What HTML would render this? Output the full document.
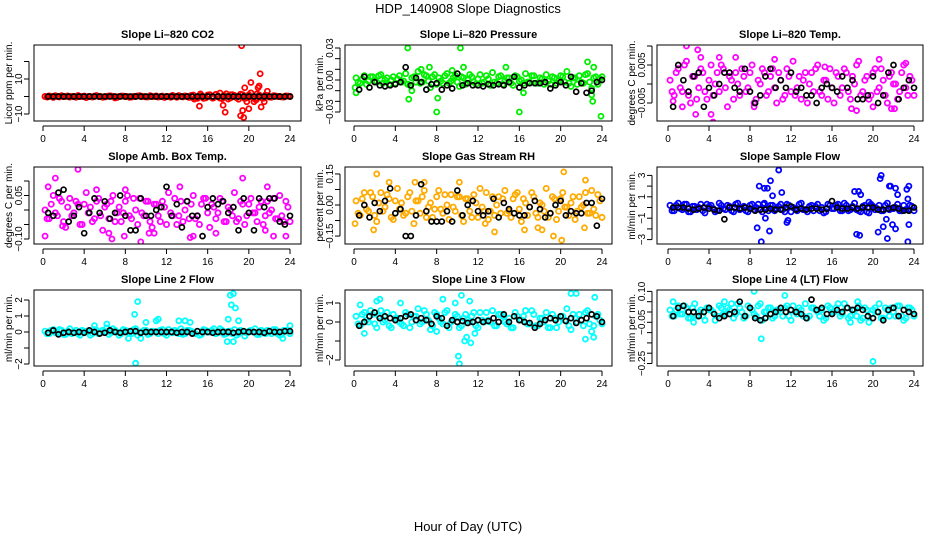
<!DOCTYPE html>
<html><head><meta charset="utf-8"><style>
html,body{margin:0;padding:0;background:#fff;}
svg{display:block;font-family:"Liberation Sans",sans-serif;}
</style></head><body>
<svg id="chart" width="936" height="540" viewBox="0 0 936 540">
<text x="468" y="13" text-anchor="middle" font-size="13">HDP_140908  Slope Diagnostics</text>
<text x="468" y="531" text-anchor="middle" font-size="13">Hour of Day (UTC)</text>
</svg>
<script>
// x-axis ticks
const xTicks=[0,4,8,12,16,20,24];
// Panel 1: Li-820 CO2 (ppm/min)
const co2Color=[0,0.3,-0.5,0,0.4,0,-0.3,0,0.5,0,-0.6,0,0.2,0,-0.4,0,0.3,-0.8,0,0.2,0,-0.3,0,0.4,0,-0.2,0,0.3,0,-0.5,0,0.6,-0.4,0,0.3,-0.5,0.8,-1,0.5,-0.8,1,-0.6,0.4,-1.2,1.5,-0.8,0.6,-1.5,1,-0.7,2,-1.2,0.8,-1,0.5,-0.4,0.3,0,-0.3,0.2];
const co2Color2=[-0.3,0,0.4,-0.2,0,0.3,0,-0.4,0,0.2,0,-0.3,0.5,0,-0.2,0.3,0,-0.5,0.2,0,-0.4,0,0.3,0,-0.2,0.4,0,-0.3,0.2,0,-0.4,0,0.5,-0.2,0,0.6,-0.7,0.4,-1,0.8,-0.5,1.2,-0.9,0.6,-1.4,1,-0.6,1.3,-1.1,0.9,-0.8,1.5,-0.6,0.7,-0.3,0.4,0,-0.2,0.3,0];
const co2OutX=[14.7,15.2,15.3,17.5,17.7,17.2,19.2,19.3,19.5,19.6,19.8,20.0,20.2,20.5,20.9,21.0,21.1,21.2,21.5,21.8,19.4,16.5,18.2,20.7];
const co2OutY=[-1.5,-5.5,1.5,-5,-9,2,-11,29,-12,5,-3,-7,8,-3,5,6,13,-6,-3,3,-8,-1,1,-2];
const co2Black=[0,0,0,0,0,0,0,0,0,0,0,0,0,0,0,0,0,0,0,0,0,0,0,0,0,0,0,0,0,0,0,0,0,0,0,0,0,0,0,0,0,0,0,0,0,0,0,0];
// Panel 2: Li-820 Pressure (x0.001 kPa/min)
const presColor=[2,-3,4,-1,3,-2,5,0,-4,3,1,-2,6,-5,3,8,-2,4,-7,5,2,-3,6,-1,4,-6,2,0,3,-4,5,-2,1,7,-3,4,-1,2,-5,3,0,6,-2,4,-3,1,5,-4,2,-1,3,8,-6,2,4,-3,6,-8,3,1];
const presColor2=[-2,1,-4,3,-1,4,-3,2,0,-3,4,-1,-4,2,-2,-3,5,-1,3,-4,-1,4,-3,2,-2,3,-4,5,-2,1,-3,4,-5,-2,3,-4,2,-3,4,-1,-3,-2,4,-3,2,-4,-1,3,-3,4,-2,-3,2,-4,-2,5,-2,2,-4,3];
const presOutX=[5.2,10.3,5.3,8,16,23.9,8.1,6.5,7.3,9.5,10.6,14.7,16.4,22.6,23.1,23.2,0.1,0.2,5.6,23.0];
const presOutY=[30,30,-18,-30,-30,-34,-17,10,12,9,12,12,-12,17,-20,12,-7,-12,-10,-14];
const presBlack=[-9,3,-7,-2,-5,-6,-5,-4,-2,12,-5,2,-2,-9,-4,-3,-9,-5,-8,6,-5,-3,-5,-5,-6,-4,-5,-4,-5,-2,3,-7,-5,-3,-3,-3,-2,-8,-5,-2,-5,3,-11,-3,-12,-10,-2,0];
// Panel 3: Li-820 Temp (x0.001 C/min)
const ltColor=[1,-3,4,-2,6,-5,2,-1,3,-4,5,0,-2,4,-6,1,3,-3,2,-1,5,-4,0,3,-2,4,-5,1,-3,2,6,-1,-4,3,0,-2,5,-3,1,4,-5,2,-1,3,-4,0,6,-2,2,-3,4,-1,1,-5,3,0,-2,5,-3,1];
const ltColor2=[-2,3,-1,5,-3,2,-4,4,-2,1,-3,3,5,-1,2,-4,0,4,-2,3,-5,1,4,-3,2,-1,3,-4,4,-2,-3,2,1,-5,3,4,-2,1,-4,-1,3,-3,4,-2,2,5,-3,1,-4,3,-2,4,-3,2,0,-4,3,-1,2,-3];
const ltOutX=[1.8,2.9,3.2,4.4,2.7,5.0,6.6,4.2,17.9,18.4,21.8,22.1,20.0,1.4,0.5,8.4,10.4,20.6,23.2,15.3];
const ltOutY=[10,9,7,-10,-8,7,7,-8,-6.5,-7,-6.5,-6.5,-6,-6,-4.5,-6,6.5,6.5,5.5,4.5];
const ltBlack=[-6,5,1,-2,2,3,-6,-1,-3,0,3,3,-1,-2,4,-2,-5,-3,2,4,-1,1,-1,3,-2,-1,-3,-3,-5,-1,0,-1,-2,2,-1,1,-4,-4,-3,2,-5,-3,3,5,-4,-1,1,-1];
// Panel 4: Amb. Box Temp (x0.01 C/min)
const abColor=[0,-3,5,-2,3,-6,4,-1,2,-5,6,1,-3,4,-7,2,3,-4,1,-1,5,-3,0,4,-2,3,-6,2,-4,1,6,-2,-5,3,0,-3,5,-2,2,4,-6,1,-1,3,-4,0,6,-3,2,-2,4,-1,1,-5,3,0,-3,5,-4,1];
const abColor2=[-3,2,-1,4,-4,1,-2,3,-5,2,-1,-4,3,-2,1,-3,5,-1,-4,3,-2,4,-5,-1,3,-4,2,-2,3,-5,-1,4,-2,-4,3,2,-3,-5,4,-1,2,-3,4,-4,1,-2,-4,3,-5,2,-1,-4,3,-2,-1,4,-3,-2,3,-4];
const abOutX=[0.2,0.5,1.2,3.4,1.9,5.2,6.7,6.4,7.9,9.5,10.3,10.8,14.3,14.6,19.4,21.6,22.4,23.6,21.8,8,16.8,13.3];
const abOutY=[-9,8,11,14,-5.5,7,-10,-8,-9,-11,-8,-8,-9.5,-9,11,-7,-9,-9,8,7,-8,8];
const abBlack=[-1,-2,6,7,-4,-2,1,-8,-1,4,-1,3,-3,-1,5,-2,-7,-7,4,-2,-2,0,1,8,-2,2,-6,3,-2,-2,-9,1,4,2,3,-1,1,-7,4,-1,-7,4,1,4,4,-4,-5,-2];
// Panel 5: Gas Stream RH (x0.01 %/min)
const rhColor=[2,-5,6,-3,4,-8,6,-1,3,-7,8,1,-4,6,-9,2,4,-6,1,-2,7,-4,0,5,-3,4,-8,3,-6,1,8,-3,-7,4,0,-4,7,-3,3,6,-8,1,-1,4,-6,0,8,-4,3,-3,6,-1,1,-7,4,0,-4,7,-5,2];
const rhColor2=[-4,3,-2,6,-5,1,-3,5,-6,2,-2,-5,4,-3,2,-4,7,-1,-6,4,-2,5,-7,-1,4,-5,3,-3,5,-6,-1,6,-3,-5,4,3,-4,-6,5,-2,3,-5,6,-4,1,-3,-6,4,-7,3,-1,-5,4,-3,-1,6,-4,-2,5,-6];
const rhOutX=[2.2,3.4,5.9,1.9,13.6,12.7,20.3,20.1,19.3,22.4,16.5,18.2,17.8,6.8,10.2,22.3,0.1];
const rhOutY=[15,11,11,-12,-13,-9,16,-17,-15,12,-12,-12,-11,11,11,-11,-9];
const rhBlack=[-5,0,-6,1,-3,2,8,-4,-2,-15,-15,-5,10,-3,-8,-8,-8,-3,-8,7,-5,0,2,-3,-5,-3,3,-6,1,-2,-4,-5,-5,-1,2,-2,-6,-4,0,2,-5,-3,-4,-4,1,1,-10,3];
// Panel 6: Sample Flow (ml/min per min)
const sfColor=[0.2,-0.3,0.4,-0.2,0.3,-0.4,0.1,0,-0.3,0.3,0.2,-0.4,0.4,-0.1,0.2,-0.3,0.3,-0.2,0.1,-0.4,0.3,0,-0.2,0.4,-0.3,0.2,-0.1,0.3,-0.4,0.2,0,-0.3,0.4,-0.2,0.1,-0.3,0.3,0,-0.4,0.2,-0.1,0.3,-0.3,0.2,-0.2,0.4,-0.3,0.1,-0.4,0.3,-0.2,0.2,-0.3,0.4,-0.1,0,-0.3,0.2,-0.2,0.1];
const sfColor2=[-0.3,0.2,-0.1,0.3,-0.4,0.1,-0.2,0.3,-0.5,0.1,-0.1,-0.3,0.2,-0.2,0.1,-0.4,0.4,-0.1,-0.3,0.2,-0.2,0.3,-0.4,-0.1,0.2,-0.3,0.1,-0.2,0.3,-0.4,-0.1,0.3,-0.2,-0.4,0.2,0.1,-0.3,-0.5,0.3,-0.1,0.2,-0.3,0.4,-0.3,0.1,-0.2,-0.4,0.2,-0.5,0.1,-0.1,-0.3,0.2,-0.2,-0.1,0.3,-0.3,-0.2,0.2,-0.3];
const sfOutX=[8.9,9.4,9.3,10.8,10.0,10.2,11.1,8.7,9.1,9.9,11.6,9.5,11.7,18.2,18.6,18.8,18.4,18.7,19.6,20.7,20.8,21.3,21.6,21.7,22.2,22.4,22.2,21.9,21.4,23.3,23.5,23.5,23.4,20.5,21.0,23.4,9.7,19.9];
const sfOutY=[2,1.8,0.3,3.5,2.5,1.1,1.4,-1.9,-3.2,-2.2,-1.4,-1,-1.2,1.5,1.5,1.2,-2.5,-2.6,0.5,2.7,3,-1.1,2,2,1.8,1.2,-2,-1.6,-2.9,1.7,2,-1.6,-3.2,-2.3,-1.8,0.8,1.8,0.2];
const sfBlack=[0,0,0,-0.1,-0.2,-0.1,0,-0.1,-0.2,-0.3,-1.1,0,0,-0.1,0,-0.1,-0.3,-0.2,-0.2,-0.1,-0.2,-0.2,0,0.1,-0.2,-0.1,-0.2,-0.1,-0.1,-0.2,-0.1,0.6,0,-0.1,-0.1,0,-0.1,0,0,0,-0.2,-0.2,-0.1,0,-0.1,-0.3,-0.3,0];
// Panel 7: Line 2 Flow
const l2Color=[0.05,-0.1,0.15,-0.05,0.1,-0.15,0.2,0,-0.1,0.1,0.05,-0.2,0.15,-0.1,0.1,0.25,-0.05,0.1,-0.2,0.15,0.05,-0.1,0.2,-0.05,0.1,-0.15,0.05,0,0.1,-0.1,0.15,-0.05,0.05,0.2,-0.1,0.1,-0.05,0.05,-0.15,0.1,0,0.2,-0.05,0.1,-0.1,0.05,0.15,-0.1,0.05,-0.05,0.1,0.2,-0.15,0.05,0.1,-0.1,0.15,-0.2,0.1,0.05];
const l2Color2=[-0.1,0.1,-0.05,0.15,-0.15,0.05,-0.1,0.1,-0.2,0.05,0,-0.1,0.1,-0.05,0.05,-0.15,0.2,0,-0.1,0.1,-0.05,0.15,-0.2,0,0.1,-0.1,0.05,-0.1,0.15,-0.2,0,0.1,-0.1,-0.15,0.1,0.05,-0.1,-0.2,0.15,0,0.1,-0.1,0.2,-0.15,0.05,-0.1,-0.2,0.1,-0.25,0.05,0,-0.15,0.1,-0.1,0,0.15,-0.1,-0.15,0.1,-0.1];
const l2OutX=[8.9,9.2,9.0,18.2,18.5,18.7,18.3,18.0,19.0,17.9,18.5,10,11,11.2,13.2,13.8,14.3,9.5,6.2,23.3,24,8.3,5];
const l2OutY=[1.1,1.9,-1.95,2.3,2.4,1.5,1.7,0.8,0.7,-0.6,-0.6,0.6,0.7,0.8,0.7,0.7,0.6,-0.4,0.5,-0.4,0.4,-0.4,0.4];
const l2Black=[-0.05,0.1,-0.15,-0.05,0,-0.05,0,-0.05,0.1,0,-0.1,-0.05,0.1,0,-0.05,0,0.05,0.05,-0.05,0,0,0,0,0,0,-0.05,0,0,-0.1,0.05,0,0,-0.05,0,0,0,-0.05,0,0.05,0,0,0,-0.05,0.05,0,0,0.05,0.05];
// Panel 8: Line 3 Flow
const l3Color=[0.3,-0.2,0.5,0,0.4,-0.3,0.6,0.1,-0.2,0.4,0.2,-0.1,0.5,-0.3,0.3,0.7,0,0.4,-0.4,0.5,0.2,-0.1,0.6,0,0.4,-0.3,0.2,0.1,0.3,-0.2,0.5,0,0.1,0.6,-0.2,0.4,0,0.2,-0.3,0.3,0.1,0.6,-0.1,0.4,-0.2,0.2,0.5,-0.3,0.2,0,0.3,0.7,-0.4,0.2,0.4,-0.2,0.6,-0.5,0.3,0.1];
const l3Color2=[-0.1,0.4,0.1,0.6,-0.1,0.3,0,0.5,-0.3,0.2,0,-0.2,0.4,0,0.3,-0.1,0.6,0.1,-0.2,0.4,0,0.5,-0.3,0.1,0.3,-0.2,0.4,0,0.5,-0.3,0.1,0.5,0,-0.2,0.4,0.3,-0.1,-0.3,0.5,0.1,0.3,-0.1,0.6,-0.2,0.2,0,-0.3,0.4,-0.3,0.3,0.1,-0.2,0.4,0,0.1,0.5,-0.1,-0.2,0.4,-0.1];
const l3OutX=[0.6,2.5,2.2,4.5,8.6,10.4,11.2,9.8,10.1,10.2,10.7,10.9,11.3,21.5,21,23.3,22.4,23.2,8,1,11.7];
const l3OutY=[0.9,1.2,1.1,1,1.2,1.4,1.1,1,-1.8,-2.2,-1.0,-0.8,-1.1,1.5,1.5,1.3,-0.9,-0.8,-0.5,-0.6,-0.6];
const l3Black=[-0.2,0,0.3,0.5,0.2,0.3,0.2,0.1,0.2,0.3,0.4,0.1,0.2,0.1,-0.1,0.3,0.2,-0.2,0.1,0,0.05,-0.05,0,0.1,0,0.05,0.2,0,0.4,0,0.3,0.1,0,-0.05,-0.3,-0.1,0.1,0.2,0.1,0.3,0.05,0.2,-0.05,0.1,0.2,0.4,0.3,0];
// Panel 9: Line 4 (LT) Flow (x0.01)
const l4Color=[1,-2,3,-1,2,-3,4,0,-2,2,1,-4,3,-1,2,4,-1,2,-3,3,1,-2,4,0,2,-3,1,0,2,-2,3,-1,1,4,-2,2,0,1,-3,2,0,4,-1,2,-2,1,3,-3,1,-1,2,4,-3,1,2,-2,3,-4,2,1];
const l4Color2=[-2,1,-1,3,-3,2,-2,1,-4,1,0,-2,2,-1,1,-3,4,0,-2,2,-1,3,-4,0,2,-2,1,-2,3,-4,0,2,-2,-3,2,1,-2,-4,3,0,2,-2,4,-3,1,-2,-4,2,-5,1,0,-3,2,-2,0,3,-2,-3,2,-2];
const l4OutX=[8.4,11.4,9.1,20,12,5.5,18.5,17.8,0.5,2.5];
const l4OutY=[10,8,-13,-24,-31,5,5,-5,5,-5];
const l4Black=[-2,2,3,0,0,-2,0,2,-1,-3,-2,-1,0,5,-2,2,-3,-4,-3,-1,0,2,0,1,0,-1,-3,6,1,2,-1,-1,1,0,2,1,2,1,-2,-3,0,-4,1,2,-2,1,0,-1];

const NS='http://www.w3.org/2000/svg';
const svg=document.getElementById('chart');
const cols=[{l:34,r:301,x0:43,x24:290},{l:345,r:612,x0:354,x24:602},{l:657,r:923,x0:668,x24:914}];
const rows=[{t:45,b:121},{t:167,b:244},{t:290,b:366}];
const panels=[
 {key:'co2',title:'Slope Li\u2013820 CO2',ylab:'Licor ppm per min.',color:'#ff0000',zero:96.5,ppu:1.75,ticks:[20,10,0,-10],labels:{'10':'10','-10':'\u221210'},c:co2Color,c2:co2Color2,ox:co2OutX,oy:co2OutY,k:co2Black},
 {key:'pressure',title:'Slope Li\u2013820 Pressure',ylab:'kPa per min.',color:'#00ee00',zero:80,ppu:1.067,ticks:[30,20,10,0,-10,-20,-30],labels:{'30':'0.03','0':'0.00','-30':'\u22120.03'},c:presColor,c2:presColor2,ox:presOutX,oy:presOutY,k:presBlack},
 {key:'li820-temp',title:'Slope Li\u2013820 Temp.',ylab:'degrees C per min.',color:'#ff00ff',zero:84,ppu:3.8,ticks:[10,5,0,-5],labels:{'5':'0.005','-5':'\u22120.005'},c:ltColor,c2:ltColor2,ox:ltOutX,oy:ltOutY,k:ltBlack},
 {key:'amb-box-temp',title:'Slope Amb. Box Temp.',ylab:'degrees C per min.',color:'#ff00ff',zero:210,ppu:2.9,ticks:[10,5,0,-5,-10],labels:{'5':'0.05','-10':'\u22120.10'},c:abColor,c2:abColor2,ox:abOutX,oy:abOutY,k:abBlack},
 {key:'gas-rh',title:'Slope Gas Stream RH',ylab:'percent per min.',color:'#ffaa00',zero:205,ppu:2.07,ticks:[15,7.5,0,-7.5,-15],labels:{'15':'0.15','0':'0.00','-15':'\u22120.15'},c:rhColor,c2:rhColor2,ox:rhOutX,oy:rhOutY,k:rhBlack},
 {key:'sample-flow',title:'Slope Sample Flow',ylab:'ml/min per min.',color:'#0000ff',zero:207.5,ppu:10.7,ticks:[3,2,1,0,-1,-2,-3],labels:{'3':'3','1':'1','-1':'\u22121','-3':'\u22123'},c:sfColor,c2:sfColor2,ox:sfOutX,oy:sfOutY,k:sfBlack},
 {key:'line2-flow',title:'Slope Line 2 Flow',ylab:'ml/min per min.',color:'#00ffff',zero:332,ppu:16,ticks:[2,1,0,-1,-2],labels:{'2':'2','1':'1','0':'0','-2':'\u22122'},c:l2Color,c2:l2Color2,ox:l2OutX,oy:l2OutY,k:l2Black},
 {key:'line3-flow',title:'Slope Line 3 Flow',ylab:'ml/min per min.',color:'#00ffff',zero:322,ppu:19,ticks:[1,0,-1,-2],labels:{'1':'1','0':'0','-2':'\u22122'},c:l3Color,c2:l3Color2,ox:l3OutX,oy:l3OutY,k:l3Black},
 {key:'line4-flow',title:'Slope Line 4 (LT) Flow',ylab:'ml/min per min.',color:'#00ffff',zero:312,ppu:2.06,ticks:[10,5,0,-5,-10,-15,-20,-25],labels:{'10':'0.10','-5':'\u22120.05','-25':'\u22120.25'},c:l4Color,c2:l4Color2,ox:l4OutX,oy:l4OutY,k:l4Black}
];
function mk(tag,attrs,parent){const e=document.createElementNS(NS,tag);for(const a in attrs)e.setAttribute(a,attrs[a]);(parent||svg).appendChild(e);return e;}
panels.forEach((p,i)=>{
 const c=cols[i%3], r=rows[Math.floor(i/3)];
 const g=mk('g',{});
 
 
 const xs=h=>c.x0+h*(c.x24-c.x0)/24;
 const ys=v=>p.zero-v*p.ppu;
 const clipId='clip'+i;
 const cp=mk('clipPath',{id:clipId},g);
 mk('rect',{x:c.l,y:r.t,width:c.r-c.l,height:r.b-r.t},cp);
 const t=mk('text',{x:(c.l+c.r)/2,y:r.t-7,'text-anchor':'middle','font-size':11,'font-weight':'bold'},g);
 t.textContent=p.title;
 
 
 const pts=mk('g',{'clip-path':'url(#'+clipId+')'},g);
 
 
 p.c.forEach((v,j)=>{const h=0.2+0.4*j;
  const ci=mk('circle',{cx:xs(h),cy:ys(v),r:2.6,fill:'none',stroke:p.color,'stroke-width':1.8},pts);
  
  
 });
 p.c2.forEach((v,j)=>{const h=0.4+0.4*j;
  const ci=mk('circle',{cx:xs(h),cy:ys(v),r:2.6,fill:'none',stroke:p.color,'stroke-width':1.8},pts);
  
  
 });
 p.ox.forEach((h,j)=>{
  const ci=mk('circle',{cx:xs(h),cy:ys(p.oy[j]),r:2.5,fill:'none',stroke:p.color,'stroke-width':1.8},pts);
  
  
 });
 p.k.forEach((v,j)=>{const h=0.5+0.5*j;
  const ci=mk('circle',{cx:xs(h),cy:ys(v),r:2.5,fill:'none',stroke:'#000','stroke-width':1.7},pts);
  
  
 });
 const box=mk('rect',{x:c.l,y:r.t,width:c.r-c.l,height:r.b-r.t,fill:'none',stroke:'#000','stroke-width':1},g);
 
 
 mk('line',{x1:xs(0),x2:xs(24),y1:r.b+5,y2:r.b+5,stroke:'#000'},g);
 xTicks.forEach(h=>{
  mk('line',{x1:xs(h),x2:xs(h),y1:r.b+5,y2:r.b+10,stroke:'#000'},g);
  const tl=mk('text',{x:xs(h),y:r.b+21,'text-anchor':'middle','font-size':10},g);
  tl.textContent=h;
  
  
 });
 const yt=p.ticks.map(ys);
 mk('line',{x1:c.l-5,x2:c.l-5,y1:Math.min(...yt),y2:Math.max(...yt),stroke:'#000'},g);
 p.ticks.forEach(v=>{
  mk('line',{x1:c.l-10,x2:c.l-5,y1:ys(v),y2:ys(v),stroke:'#000'},g);
  const lab=p.labels[String(v)];
  if(lab){const tl=mk('text',{x:0,y:0,'text-anchor':'middle','font-size':10,transform:'translate('+(c.l-12)+','+ys(v)+') rotate(-90)'},g);
   tl.textContent=lab;
   
   }
 });
 const yl=mk('text',{x:0,y:0,'text-anchor':'middle','font-size':10,transform:'translate('+(c.l-22)+','+((r.t+r.b)/2)+') rotate(-90)'},g);
 yl.textContent=p.ylab;
 
 
});
</script>
</body></html>
